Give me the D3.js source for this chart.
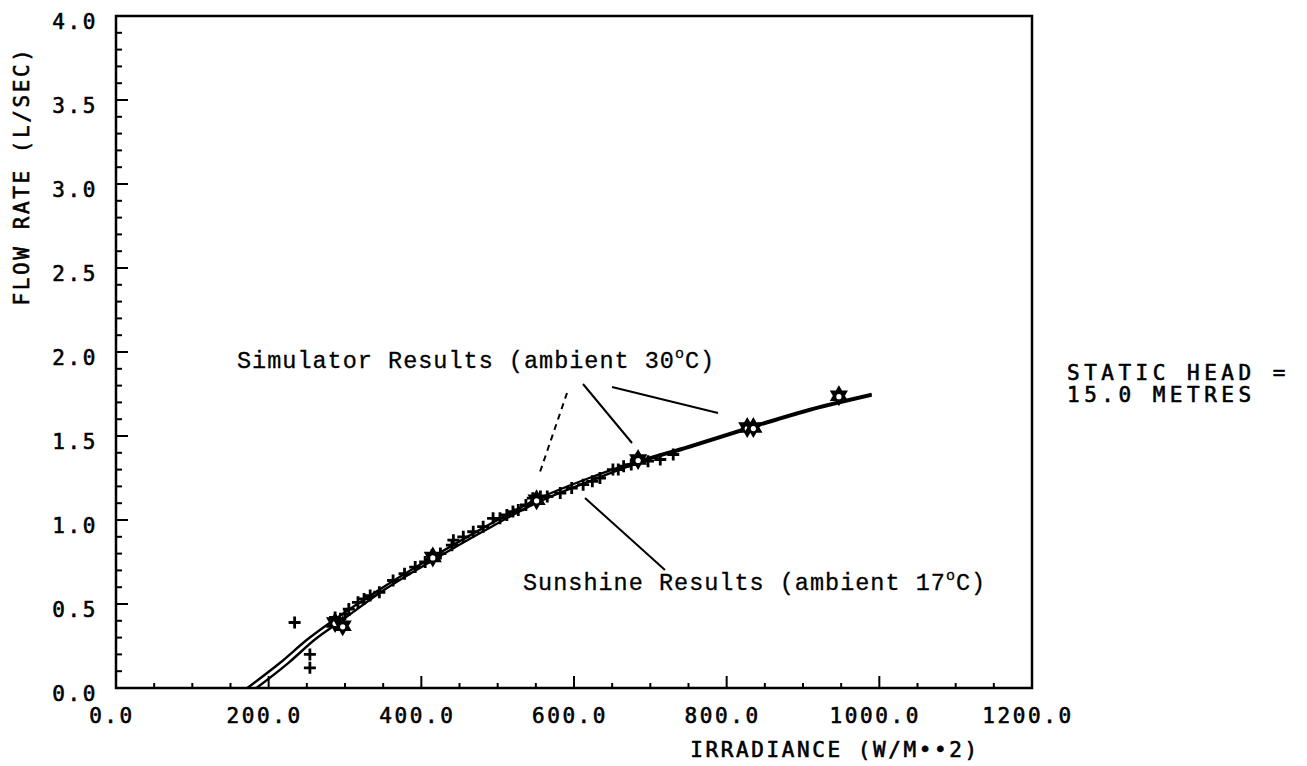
<!DOCTYPE html>
<html><head><meta charset="utf-8">
<script src="https://cdn.jsdelivr.net/npm/d3@7"></script>
<style>
body{margin:0;background:#fff;}
svg{display:block;}
.tick-lab{font-family:"DejaVu Sans Mono",monospace;font-size:21px;letter-spacing:2.6px;fill:#000;stroke:#000;stroke-width:0.6px;}
.ann{font-family:"Liberation Mono","Courier New",monospace;font-size:23.5px;letter-spacing:1px;fill:#000;stroke:#000;stroke-width:0.3px;}
</style></head>
<body>
<script>
// ---- data ----
const xTicks = [0, 200, 400, 600, 800, 1000, 1200];
const xTickLabels = ["0.0","200.0","400.0","600.0","800.0","1000.0","1200.0"];
const yTicks = [0, 0.5, 1.0, 1.5, 2.0, 2.5, 3.0, 3.5, 4.0];
const yTickLabels = ["0.0","0.5","1.0","1.5","2.0","2.5","3.0","3.5","4.0"];

// simulator fitted curve (ambient 30°C)
const curveA_x = [172, 215, 251, 287, 350, 415, 480, 550, 620, 684, 750, 827, 900, 990];
const curveA_y = [0, 0.15, 0.29, 0.41, 0.60, 0.78, 0.95, 1.12, 1.25, 1.35, 1.44, 1.55, 1.65, 1.75];
// sunshine fitted curve (ambient 17°C)
const curveB_x = [184, 226, 261, 295, 350, 415, 480, 550, 620, 684, 750, 827, 900, 990];
const curveB_y = [0, 0.15, 0.29, 0.40, 0.58, 0.76, 0.93, 1.10, 1.23, 1.34, 1.43, 1.54, 1.64, 1.74];

// simulator results (star markers)
const simX = [287, 297, 415, 551, 684, 827, 835, 947];
const simY = [0.39, 0.37, 0.78, 1.12, 1.36, 1.55, 1.55, 1.74];

// sunshine results (plus markers)
const sunX = [234, 254, 254, 287, 300, 305, 317, 325, 333, 345, 363, 378, 392, 405, 414, 425, 440, 442, 455, 468, 481, 494, 503, 512, 520, 527, 537, 546, 556, 565, 582, 597, 612, 624, 634, 651, 658, 665, 675, 682, 697, 713, 730];
const sunY = [0.39, 0.20, 0.12, 0.42, 0.44, 0.47, 0.51, 0.53, 0.55, 0.57, 0.64, 0.68, 0.72, 0.75, 0.79, 0.80, 0.85, 0.88, 0.90, 0.93, 0.96, 1.01, 1.01, 1.03, 1.05, 1.06, 1.09, 1.13, 1.14, 1.14, 1.16, 1.19, 1.21, 1.23, 1.25, 1.30, 1.30, 1.32, 1.33, 1.36, 1.35, 1.36, 1.39];

// ---- chart ----
const W = 1307, H = 766;
const svg = d3.select("body").append("svg").attr("width", W).attr("height", H);
const x = d3.scaleLinear().domain([0, 1200]).range([116, 1032]);
const y = d3.scaleLinear().domain([0, 4]).range([688, 16]);

// frame
svg.append("rect").attr("x", x(0)).attr("y", y(4))
  .attr("width", x(1200) - x(0)).attr("height", y(0) - y(4))
  .attr("fill", "none").attr("stroke", "#000").attr("stroke-width", 2.5);

// x ticks (inward)
const xMinor = d3.range(0, 1201, 50);
svg.append("g").selectAll("line").data(xMinor).join("line")
  .attr("x1", d => x(d)).attr("x2", d => x(d))
  .attr("y1", y(0)).attr("y2", d => y(0) - (d % 200 === 0 ? 12 : 5))
  .attr("stroke", "#000").attr("stroke-width", 2);
// y ticks (inward)
const yMinor = d3.range(0, 41).map(i => i / 10);
svg.append("g").selectAll("line").data(yMinor).join("line")
  .attr("x1", x(0)).attr("x2", (d, i) => x(0) + (i % 5 === 0 ? 12 : 6))
  .attr("y1", d => y(d)).attr("y2", d => y(d))
  .attr("stroke", "#000").attr("stroke-width", 2);

// tick labels
svg.append("g").selectAll("text").data(xTicks).join("text")
  .attr("class", "tick-lab").attr("x", d => x(d) - 4).attr("y", 723)
  .attr("text-anchor", "middle").text((d, i) => xTickLabels[i]);
svg.append("g").selectAll("text").data(yTicks).join("text")
  .attr("class", "tick-lab").attr("x", 98).attr("y", d => y(d) + 13)
  .attr("text-anchor", "end").text((d, i) => yTickLabels[i]);

// axis titles
svg.append("text").attr("class", "tick-lab").attr("x", 835).attr("y", 757)
  .attr("text-anchor", "middle").text("IRRADIANCE (W/M••2)");
svg.append("text").attr("class", "tick-lab")
  .attr("transform", "translate(29,176) rotate(-90)")
  .attr("text-anchor", "middle").text("FLOW RATE (L/SEC)");

// static head note
svg.append("text").attr("class", "tick-lab").attr("x", 1067).attr("y", 380)
  .style("letter-spacing", "4.5px").text("STATIC HEAD =");
svg.append("text").attr("class", "tick-lab").attr("x", 1067).attr("y", 402)
  .style("letter-spacing", "4.5px").text("15.0 METRES");

// curves
const line = d3.line().x(d => x(d[0])).y(d => y(d[1])).curve(d3.curveMonotoneX);
svg.append("path").datum(curveA_x.map((v, i) => [v, curveA_y[i]]))
  .attr("d", line).attr("fill", "none").attr("stroke", "#000").attr("stroke-width", 2.4);
svg.append("path").datum(curveB_x.map((v, i) => [v, curveB_y[i]]))
  .attr("d", line).attr("fill", "none").attr("stroke", "#000").attr("stroke-width", 2.4);

// plus markers
const plus = svg.append("g");
sunX.forEach((v, i) => {
  const cx = x(v), cy = y(sunY[i]);
  plus.append("path").attr("d", `M${cx-6},${cy}H${cx+6}M${cx},${cy-6}V${cy+6}`)
    .attr("stroke", "#000").attr("stroke-width", 2.8).attr("fill", "none");
});

// star (hexagram) markers
const star = svg.append("g");
simX.forEach((v, i) => {
  const cx = x(v), cy = y(simY[i]), r = 9;
  const tri = a => d3.range(3).map(k => {
    const ang = a + k * 2 * Math.PI / 3;
    return [cx + r * Math.sin(ang), cy - r * Math.cos(ang)];
  });
  const t1 = tri(0), t2 = tri(Math.PI);
  star.append("path").attr("d", "M" + t1.join("L") + "Z M" + t2.join("L") + "Z")
    .attr("fill", "#000").attr("stroke", "#000").attr("stroke-width", 1.5);
  star.append("circle").attr("cx", cx).attr("cy", cy + 1).attr("r", 2.6).attr("fill", "#fff");
});

// annotations
const simText = svg.append("text").attr("class", "ann").attr("x", 237).attr("y", 368);
simText.append("tspan").text("Simulator Results (ambient 30");
simText.append("tspan").attr("dy", -10).style("font-size", "15px").text("o");
simText.append("tspan").attr("dy", 10).text("C)");

const sunText = svg.append("text").attr("class", "ann").attr("x", 523).attr("y", 590);
sunText.append("tspan").text("Sunshine Results (ambient 17");
sunText.append("tspan").attr("dy", -10).style("font-size", "15px").text("o");
sunText.append("tspan").attr("dy", 10).text("C)");

// leader lines
const leaders = [
  [567, 393, 540, 472, "6,5"],
  [583, 384, 632, 443, null],
  [612, 387, 718, 413, null],
  [585, 498, 665, 570, null]
];
svg.append("g").selectAll("line").data(leaders).join("line")
  .attr("x1", d => d[0]).attr("y1", d => d[1]).attr("x2", d => d[2]).attr("y2", d => d[3])
  .attr("stroke", "#000").attr("stroke-width", 2)
  .attr("stroke-dasharray", d => d[4]);
</script>
</body></html>
